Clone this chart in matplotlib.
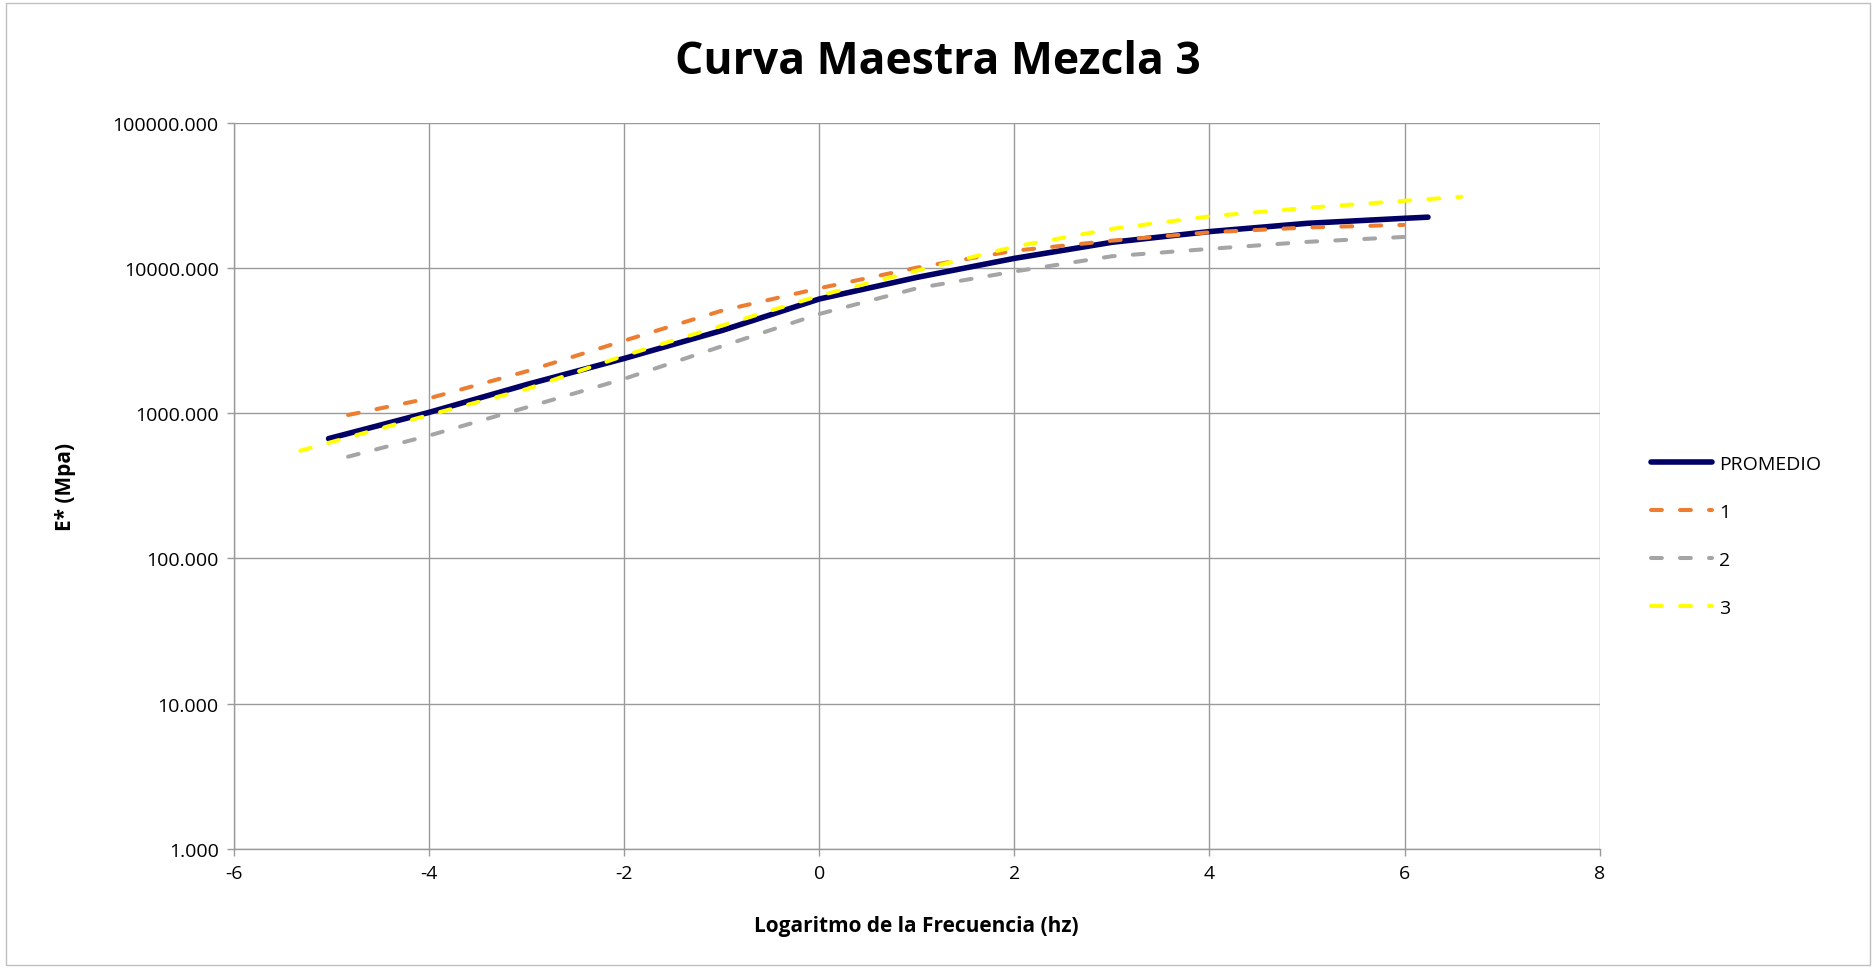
import matplotlib.pyplot as plt
from matplotlib.patches import Rectangle
from matplotlib.ticker import FixedLocator, FuncFormatter

plt.rcParams['font.family'] = ['Open Sans', 'DejaVu Sans']

# Curvas maestras: log10(frecuencia) vs E* (MPa)
log_frec_prom = [-5.03, -4, -3, -2, -1, 0, 1, 2, 3, 4, 5, 6, 6.24]
e_prom = [670, 1016, 1580, 2390, 3720, 6140, 8650, 11700, 15100, 17900, 20400, 22100, 22500]

log_frec_1 = [-4.83, -4, -3, -2, -1, 0, 1, 2, 3, 4, 5, 5.99]
e_1 = [975, 1270, 1950, 3170, 5100, 7280, 10100, 13200, 15500, 17700, 19100, 19900]

log_frec_2 = [-4.83, -4, -3, -2, -1, 0, 1, 2, 3, 4, 5, 6.12]
e_2 = [503, 703, 1100, 1730, 2900, 4840, 7280, 9500, 12100, 13600, 15200, 16600]

log_frec_3 = [-5.32, -4, -3, -2, -1, 0, 1, 2, 3, 4, 5, 6, 6.58]
e_3 = [553, 975, 1470, 2500, 4020, 6470, 9620, 14100, 18700, 22800, 26100, 29200, 31100]

x_ticks = [-6, -4, -2, 0, 2, 4, 6, 8]
y_ticks = [1, 10, 100, 1000, 10000, 100000]

fig = plt.figure(figsize=(18.76, 9.70), dpi=100)
ax = fig.add_axes([0.1247, 0.124, 0.728, 0.748])

ax.plot(log_frec_prom, e_prom, color='#000066', lw=4.0, solid_capstyle='round',
        solid_joinstyle='round', label='PROMEDIO', zorder=3)
estilo_trazos = dict(lw=2.9, dashes=(2.7, 4.5), dash_capstyle='round', dash_joinstyle='round')
ax.plot(log_frec_1, e_1, color='#ED7D31', label='1', zorder=4, **estilo_trazos)
ax.plot(log_frec_2, e_2, color='#A5A5A5', label='2', zorder=4, **estilo_trazos)
ax.plot(log_frec_3, e_3, color='#FFFF00', label='3', zorder=5, **estilo_trazos)

ax.set_yscale('log')
ax.set_xlim(-6, 8)
ax.set_ylim(1, 100000)
ax.xaxis.set_major_locator(FixedLocator(x_ticks))
ax.yaxis.set_major_locator(FixedLocator(y_ticks))
ax.yaxis.set_minor_locator(FixedLocator([]))
ax.yaxis.set_major_formatter(FuncFormatter(lambda v, p: f'{v:.3f}'))
ax.xaxis.set_major_formatter(FuncFormatter(lambda v, p: f'{v:g}'))

ax.grid(True, color='#9a9a9a', lw=1.0)
ax.set_axisbelow(True)
for lado in ['top', 'right']:
    ax.spines[lado].set_visible(False)
for lado in ['left', 'bottom']:
    ax.spines[lado].set_color('#9a9a9a')
    ax.spines[lado].set_linewidth(1.0)
ax.tick_params(axis='both', which='major', length=5, width=1.0, color='#9a9a9a',
               labelsize=14, labelcolor='#000000', direction='out', pad=6)

ax.set_xlabel('Logaritmo de la Frecuencia (hz)', fontsize=15, fontweight='bold', labelpad=24)
ax.set_ylabel('E* (Mpa)', fontsize=15, fontweight='bold', labelpad=26)

fig.text(0.5, 0.936, 'Curva Maestra Mezcla 3', fontsize=32, fontweight='bold',
         ha='center', va='center')

ax.legend(loc='center left', bbox_to_anchor=(1.025, 0.431), frameon=False,
          fontsize=14, handlelength=3.1, labelspacing=1.55, handletextpad=0.4)

# Borde exterior del gráfico
fig.patches.append(Rectangle((0.003, 0.004), 0.994, 0.992, transform=fig.transFigure,
                             fill=False, edgecolor='#bfbfbf', lw=1.0))

fig.savefig('out.png', dpi=100)
